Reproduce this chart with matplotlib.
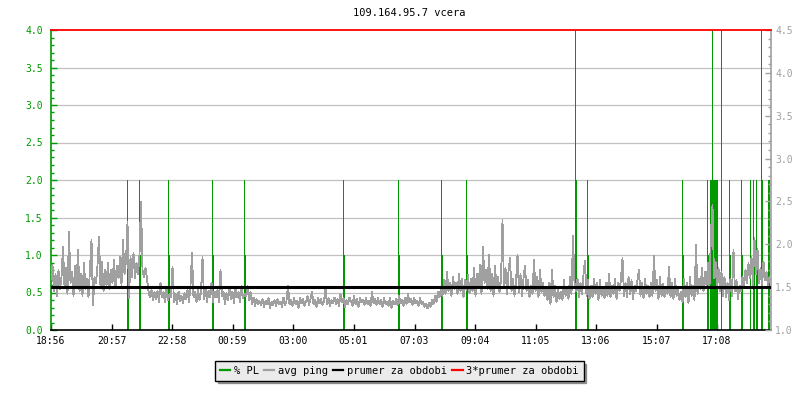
import numpy as np
import matplotlib
matplotlib.use('Agg')
import matplotlib.pyplot as plt
from matplotlib.lines import Line2D

# data -----------------------------------
title = '109.164.95.7 vcera'

# x axis in minutes from 18:56
x_tick_min = [0, 121, 242, 363, 484, 605, 727, 848, 969, 1090, 1211, 1332]
x_tick_lab = ['18:56', '20:57', '22:58', '00:59', '03:00', '05:01',
              '07:03', '09:04', '11:05', '13:06', '15:07', '17:08']

# % PL samples (minute, value)
pl_min = [151, 153, 175, 177, 233, 235, 321, 323, 386, 388,
          583, 585, 693, 695, 780, 782, 830, 832,
          1047, 1049, 1072, 1074, 1261, 1263, 1311, 1313,
          1318, 1320, 1322, 1324, 1326, 1328, 1330, 1332, 1339,
          1355, 1357, 1379, 1381, 1397, 1403, 1405, 1409, 1411,
          1419, 1421, 1434, 1436]
pl_val = [2.0, 1.0, 2.0, 1.0, 2.0, 1.0, 2.0, 1.0, 2.0, 1.0,
          2.0, 1.0, 2.0, 1.0, 2.0, 1.0, 2.0, 1.0,
          5.0, 2.0, 2.0, 1.0, 2.0, 1.0, 2.0, 1.0,
          2.0, 2.0, 5.0, 2.0, 2.0, 2.0, 2.0, 2.0, 5.0,
          2.0, 1.0, 2.0, 1.0, 2.0, 2.0, 1.0, 2.0, 1.0,
          5.0, 2.0, 2.0, 2.0]

# avg ping [ms], one value every 3 minutes
ping_step = 3
ping_ms = [
    1.60, 1.76, 1.45, 1.65, 1.40, 1.70, 1.48, 1.62, 1.97, 1.50,
    1.72, 1.42, 2.14, 1.55, 1.68, 1.40, 1.75, 1.50, 1.93, 1.45,
    1.65, 1.40, 1.78, 1.48, 1.60, 1.38, 1.72, 2.05, 1.29, 1.62,
    1.55, 1.75, 2.09, 1.50, 1.80, 1.45, 1.70, 1.52, 1.78, 1.48,
    1.70, 1.55, 1.82, 1.50, 1.75, 1.60, 1.85, 1.52, 2.05, 1.65,
    1.80, 2.26, 1.37, 1.85, 1.62, 1.90, 1.60, 1.78, 1.65, 1.88,
    2.50, 1.70, 1.62, 1.72, 1.60, 1.45, 1.38, 1.47, 1.35, 1.44,
    1.36, 1.46, 1.33, 1.55, 1.38, 1.44, 1.32, 1.48, 1.35, 1.42,
    1.38, 1.74, 1.32, 1.42, 1.30, 1.45, 1.34, 1.40, 1.31, 1.43,
    1.36, 1.47, 1.33, 1.52, 1.90, 1.38, 1.45, 1.32, 1.48, 1.35,
    1.44, 1.85, 1.36, 1.50, 1.32, 1.46, 1.38, 1.55, 1.33, 1.45,
    1.38, 1.47, 1.32, 1.70, 1.40, 1.45, 1.30, 1.43, 1.35, 1.48,
    1.36, 1.45, 1.31, 1.50, 1.38, 1.44, 1.33, 1.52, 1.37, 1.42,
    1.40, 1.51, 1.35, 1.44, 1.30, 1.38, 1.28, 1.36, 1.30, 1.34,
    1.29, 1.36, 1.27, 1.34, 1.30, 1.37, 1.26, 1.33, 1.29, 1.35,
    1.28, 1.36, 1.30, 1.33, 1.27, 1.38, 1.29, 1.34, 1.52, 1.30,
    1.35, 1.28, 1.37, 1.30, 1.34, 1.26, 1.38, 1.31, 1.36, 1.28,
    1.33, 1.40, 1.29, 1.36, 1.45, 1.30, 1.35, 1.27, 1.38, 1.31,
    1.36, 1.29, 1.34, 1.48, 1.30, 1.37, 1.28, 1.35, 1.31, 1.38,
    1.30, 1.36, 1.28, 1.42, 1.32, 1.37, 1.27, 1.35, 1.30, 1.38,
    1.33, 1.28, 1.40, 1.30, 1.36, 1.27, 1.38, 1.32, 1.35, 1.29,
    1.37, 1.30, 1.34, 1.28, 1.45, 1.31, 1.36, 1.29, 1.38, 1.30,
    1.35, 1.27, 1.37, 1.30, 1.33, 1.28, 1.38, 1.26, 1.34, 1.30,
    1.36, 1.29, 1.40, 1.31, 1.35, 1.28, 1.38, 1.30, 1.42, 1.32,
    1.36, 1.29, 1.38, 1.31, 1.34, 1.28, 1.37, 1.30, 1.33, 1.27,
    1.30, 1.25, 1.32, 1.27, 1.35, 1.30, 1.40, 1.33, 1.45, 1.38,
    1.50, 1.40, 1.58, 1.42, 1.68, 1.45, 1.55, 1.40, 1.62, 1.48,
    1.55, 1.42, 1.66, 1.45, 1.60, 1.38, 1.58, 1.47, 1.64, 1.43,
    1.60, 1.45, 1.72, 1.40, 1.65, 1.50, 1.76, 1.42, 1.97, 1.55,
    1.70, 1.48, 1.88, 1.45, 1.65, 1.40, 1.75, 1.50, 1.62, 1.44,
    1.58, 2.28, 1.50, 1.72, 1.42, 1.68, 1.84, 1.45, 1.60, 1.40,
    1.55, 1.88, 1.44, 1.65, 1.40, 1.60, 1.75, 1.45, 1.58, 1.38,
    1.52, 1.42, 1.82, 1.45, 1.62, 1.38, 1.70, 1.44, 1.55, 1.40,
    1.50, 1.35, 1.55, 1.30, 1.70, 1.38, 1.52, 1.32, 1.48, 1.36,
    1.45, 1.35, 1.58, 1.40, 1.50, 1.36, 1.62, 1.42, 2.10, 1.55,
    1.45, 1.60, 1.38, 1.55, 1.42, 1.65, 1.81, 1.40, 1.58, 1.36,
    1.52, 1.38, 1.60, 1.42, 1.55, 1.35, 1.58, 1.40, 1.50, 1.37,
    1.55, 1.40, 1.66, 1.38, 1.52, 1.42, 1.60, 1.36, 1.55, 1.45,
    1.60, 1.84, 1.40, 1.55, 1.38, 1.62, 1.42, 1.58, 1.36, 1.52,
    1.45, 1.58, 1.70, 1.40, 1.55, 1.37, 1.60, 1.42, 1.52, 1.38,
    1.55, 1.40, 1.86, 1.45, 1.58, 1.36, 1.62, 1.40, 1.54, 1.38,
    1.50, 1.42, 1.74, 1.38, 1.55, 1.36, 1.60, 1.40, 1.48, 1.35,
    1.45, 1.32, 1.60, 1.38, 1.55, 1.31, 1.62, 1.40, 1.52, 1.35,
    1.99, 1.42, 1.60, 1.48, 1.72, 1.45, 1.68, 1.52, 1.78, 1.50,
    2.15, 2.46, 1.60, 1.80, 1.50, 1.72, 1.45, 1.68, 1.40, 1.62,
    1.38, 1.55, 1.35, 1.60, 1.40, 1.93, 1.45, 1.58, 1.36, 1.52,
    1.45, 1.62, 1.50, 1.70, 1.55, 1.78, 1.60, 1.85, 1.52, 2.07,
    1.65, 1.95, 1.55, 1.72, 1.50, 1.80, 1.58, 1.68, 1.52, 1.62,
]
ping_mean = 1.5          # prumer za obdobi [ms]
ping_mean3 = 3 * ping_mean

# colors ---------------------------------
GREEN = '#009900'
GRAY = '#a0a0a0'
GRID = '#c0c0c0'
FONT = 'DejaVu Sans Mono'

plt.rcParams['font.family'] = FONT
plt.rcParams['font.size'] = 7

fig = plt.figure(figsize=(8, 4), dpi=100)
ax = fig.add_axes([51 / 800, 70 / 400, 720 / 800, 300 / 400])
ax2 = ax.twinx()

# % PL on left axis
ax.set_xlim(0, 1440)
ax.set_ylim(0, 4.0)
ax.set_yticks(np.arange(0, 4.01, 0.5))
ax.set_yticks(np.arange(0, 4.01, 0.1), minor=True)
ax.set_yticklabels(['%.1f' % v for v in np.arange(0, 4.01, 0.5)])
for v in np.arange(0.5, 3.6, 0.5):
    ax.axhline(v, color=GRID, lw=0.9, zorder=1)
ax.vlines(pl_min, 0, pl_val, color=GREEN, lw=0.72, zorder=2, antialiased=False)

ax.set_xticks(x_tick_min)
ax.set_xticklabels(x_tick_lab)
ax.tick_params(axis='x', direction='in', length=4, width=1, color='black', pad=4)
ax.tick_params(axis='y', which='major', direction='in', length=4, width=1,
               color=GREEN, labelcolor=GREEN, pad=6)
ax.tick_params(axis='y', which='minor', direction='in', length=2.2, width=1, color=GREEN)
ax.spines['top'].set_visible(False)
ax.spines['right'].set_visible(False)
ax.spines['left'].set_color(GREEN)
ax.spines['left'].set_linewidth(1.2)
ax.spines['bottom'].set_linewidth(1.2)

# avg ping on right axis
ping_minutes = np.arange(len(ping_ms)) * ping_step
ax2.set_ylim(1.0, 4.5)
ax2.plot(ping_minutes, ping_ms, color=GRAY, lw=0.6, zorder=3, antialiased=False)
ax2.axhline(ping_mean, color='black', lw=2.2, zorder=4)
ax2.axhline(ping_mean3, color='red', lw=1.3, zorder=5, clip_on=False)
ax2.set_yticks(np.arange(1.0, 4.51, 0.5))
ax2.set_yticks(np.arange(1.0, 4.51, 0.1), minor=True)
ax2.set_yticklabels(['%.1f' % v for v in np.arange(1.0, 4.51, 0.5)])
ax2.tick_params(axis='y', which='major', direction='in', length=4, width=1,
                color=GRAY, labelcolor=GRAY, pad=3)
ax2.tick_params(axis='y', which='minor', direction='in', length=2.2, width=1, color=GRAY)
for s in ['top', 'left', 'bottom']:
    ax2.spines[s].set_visible(False)
ax2.spines['right'].set_color(GRAY)
ax2.spines['right'].set_linewidth(1.2)

fig.text(0.512, 0.967, title, ha='center', va='center', fontsize=7.5)

# legend ---------------------------------
handles = [Line2D([], [], color=GREEN, lw=1.6),
           Line2D([], [], color=GRAY, lw=1.6),
           Line2D([], [], color='black', lw=1.6),
           Line2D([], [], color='red', lw=1.6)]
labels = ['% PL', 'avg ping', 'prumer za obdobi', '3*prumer za obdobi']
leg = fig.legend(handles, labels, loc='center', bbox_to_anchor=(0.499, 0.0725),
                 ncol=4, fontsize=7.5, handlelength=1.0, handletextpad=0.35,
                 columnspacing=0.5, fancybox=False, shadow=True,
                 edgecolor='black', facecolor='#ebebeb', framealpha=1,
                 borderpad=0.45)
leg.get_frame().set_linewidth(1.0)

fig.savefig('out.png', dpi=100)
